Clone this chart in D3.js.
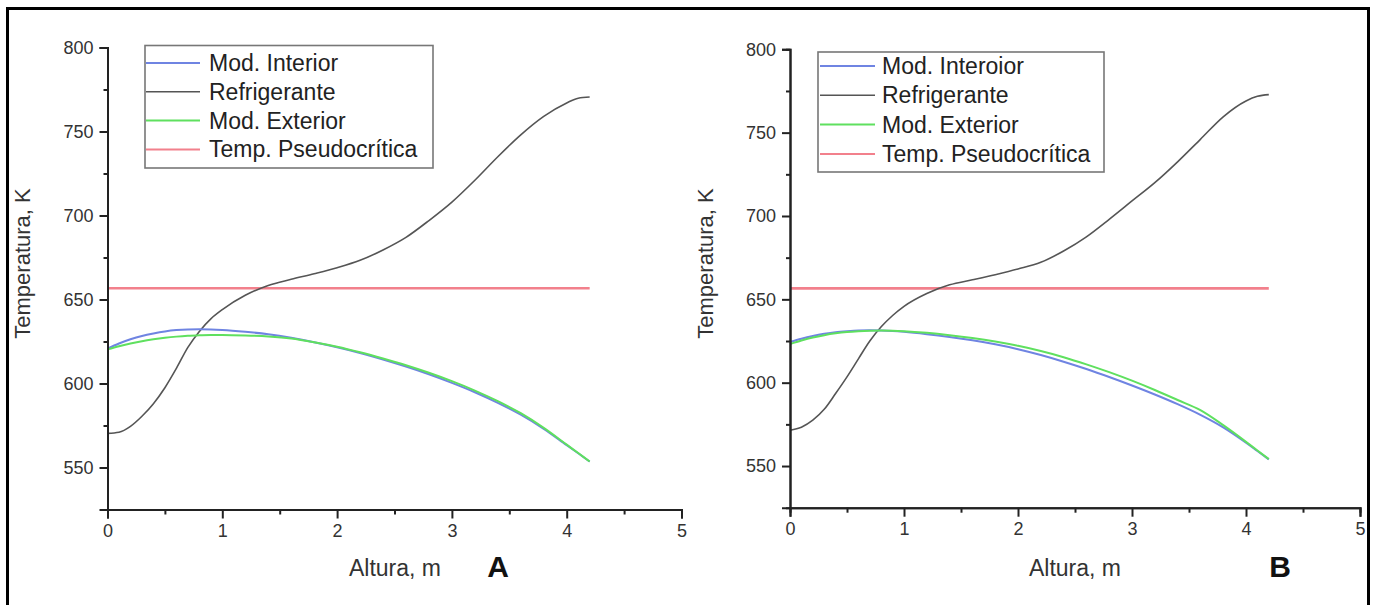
<!DOCTYPE html>
<html>
<head>
<meta charset="utf-8">
<script src="https://cdn.jsdelivr.net/npm/d3@7/dist/d3.min.js"></script>
<style>
  html, body { margin: 0; padding: 0; background: #fff; }
  svg { display: block; font-family: "Liberation Sans", Arial, sans-serif; }
</style>
</head>
<body>
<svg id="chart" width="1376" height="605"></svg>
<script>
// ---------------- data ----------------
const altura = [0, 0.1, 0.2, 0.3, 0.4, 0.5, 0.6, 0.7, 0.8, 0.9, 1.0, 1.2, 1.4, 1.6, 1.8, 2.0, 2.2, 2.4, 2.6, 2.8, 3.0, 3.2, 3.4, 3.6, 3.8, 4.0, 4.1, 4.2];

// Panel A
const refrigA  = [570.3, 571, 574.5, 580.5, 588, 597.5, 609, 621.5, 631, 638.5, 644, 652.5, 658.4, 662, 665.3, 668.9, 673.3, 679.5, 687, 697, 708, 721, 735, 748, 759, 767, 769.8, 770.5];
const interiorA = [620.8, 623.8, 626.3, 628.3, 629.8, 631, 631.8, 632.2, 632.3, 632.2, 631.9, 630.8, 629.3, 627.2, 624.6, 621.6, 618.2, 614.3, 610.1, 605.5, 600.4, 594.8, 588.5, 581.4, 573, 563.3, 558.5, 553.5];
const exteriorA = [620.3, 622.2, 623.8, 625.2, 626.3, 627.2, 627.9, 628.4, 628.7, 628.9, 628.9, 628.6, 628, 626.8, 624.6, 621.9, 618.6, 614.9, 610.9, 606.4, 601.4, 595.8, 589.5, 582.3, 573.6, 563.6, 558.6, 553.6];

// Panel B
const refrigB  = [571.5, 573.3, 577.5, 584, 593.5, 603.5, 614.3, 625, 633.5, 640.3, 645.8, 653.5, 658.7, 661.7, 664.8, 668.2, 672.2, 679, 687.5, 698, 709, 720, 732.5, 746, 759.5, 769, 771.8, 772.8];
const interiorB = [624.5, 626.4, 628, 629.3, 630.3, 630.9, 631.3, 631.4, 631.3, 631, 630.5, 629.1, 627.4, 625.4, 623, 620.1, 616.6, 612.6, 608.2, 603.4, 598.3, 592.9, 587.1, 580.7, 573.2, 564, 559, 554];
const exteriorB = [623.2, 625.3, 627.1, 628.5, 629.6, 630.4, 630.9, 631.2, 631.3, 631.2, 630.9, 629.9, 628.5, 626.8, 624.7, 622.1, 619, 615.3, 611, 606.3, 601.2, 595.6, 589.6, 583.5, 574.5, 564.5, 559.3, 554.2];

// Pseudocritical temperature (horizontal line)
const pseudoX = [0, 4.2];
const pseudoA = [656.7, 656.7];
const pseudoB = [656.6, 656.6];

const xTicks = [0, 1, 2, 3, 4, 5];
const yTicks = [550, 600, 650, 700, 750, 800];
const xDomain = [0, 5];
const yDomain = [525, 800];

const legendA = ["Mod. Interior", "Refrigerante", "Mod. Exterior", "Temp. Pseudocrítica"];
const legendB = ["Mod. Interoior", "Refrigerante", "Mod. Exterior", "Temp. Pseudocrítica"];
const seriesColors = ["#6f84e2", "#555555", "#5fe05f", "#f2808c"];
const xTitle = "Altura, m";
const yTitle = "Temperatura, K";

// ---------------- drawing ----------------
const svg = d3.select("#chart");
svg.append("rect").attr("width", 1376).attr("height", 605).attr("fill", "#fff");

// outer frame (left, top, right)
svg.append("path")
  .attr("d", "M7.5,605 L7.5,8.5 L1368.5,8.5 L1368.5,605")
  .attr("fill", "none").attr("stroke", "#000").attr("stroke-width", 3);

const panels = [
  { left: 107.5, right: 681.5, top: 47.5, bottom: 509.5,
    refrig: refrigA, interior: interiorA, exterior: exteriorA, pseudo: pseudoA,
    legend: legendA, box: [145, 45.5, 433, 168], rowY0: 63, rowStep: 28.8, lineX: [146, 200], textX: 209,
    ytitleX: 22.5, xtitleX: 395, tag: "A", tagX: 498 },
  { left: 790, right: 1360, top: 49.3, bottom: 507.7,
    refrig: refrigB, interior: interiorB, exterior: exteriorB, pseudo: pseudoB,
    legend: legendB, box: [818, 52, 1104, 172], rowY0: 66, rowStep: 29.3, lineX: [820, 875], textX: 882,
    ytitleX: 705, xtitleX: 1075, tag: "B", tagX: 1280 }
];

panels.forEach(p => {
  const x = d3.scaleLinear().domain(xDomain).range([p.left, p.right]);
  const y = d3.scaleLinear().domain(yDomain).range([p.bottom, p.top]);
  const g = svg.append("g");

  const line = d3.line()
    .x(d => x(d[0])).y(d => y(d[1]))
    .curve(d3.curveMonotoneX);

  // pseudocritical line
  g.append("path")
    .datum(pseudoX.map((v, i) => [v, p.pseudo[i]]))
    .attr("d", line).attr("fill", "none")
    .attr("stroke", seriesColors[3]).attr("stroke-width", 2.6);

  // refrigerant
  g.append("path")
    .datum(altura.map((v, i) => [v, p.refrig[i]]))
    .attr("d", line).attr("fill", "none")
    .attr("stroke", seriesColors[1]).attr("stroke-width", 1.6);

  // interior
  g.append("path")
    .datum(altura.map((v, i) => [v, p.interior[i]]))
    .attr("d", line).attr("fill", "none")
    .attr("stroke", seriesColors[0]).attr("stroke-width", 2);

  // exterior
  g.append("path")
    .datum(altura.map((v, i) => [v, p.exterior[i]]))
    .attr("d", line).attr("fill", "none")
    .attr("stroke", seriesColors[2]).attr("stroke-width", 2);

  // axes
  const xAxis = d3.axisBottom(x).tickValues(xTicks).tickSize(9).tickPadding(6).tickFormat(d3.format("d"));
  const yAxis = d3.axisLeft(y).tickValues(yTicks).tickSize(8).tickPadding(6).tickFormat(d3.format("d"));
  const xMinor = d3.axisBottom(x).tickValues(d3.range(0.5, 5, 1)).tickSize(5).tickFormat("");
  const yMinor = d3.axisLeft(y).tickValues(d3.range(575, 800, 50)).tickSize(4).tickFormat("");

  const styleAxis = sel => {
    sel.select(".domain").attr("stroke", "#222").attr("stroke-width", 2);
    sel.selectAll(".tick line").attr("stroke", "#222").attr("stroke-width", 2);
    sel.selectAll(".tick text").attr("fill", "#333").style("font-size", "18px")
      .style("font-family", "'Liberation Sans', Arial, sans-serif");
  };

  g.append("g").attr("transform", `translate(0,${p.bottom})`).call(xMinor).call(styleAxis);
  g.append("g").attr("transform", `translate(${p.left},0)`).call(yMinor).call(styleAxis);
  g.append("g").attr("transform", `translate(0,${p.bottom})`).call(xAxis).call(styleAxis);
  g.append("g").attr("transform", `translate(${p.left},0)`).call(yAxis).call(styleAxis);

  // titles
  g.append("text")
    .attr("transform", `translate(${p.ytitleX},${(p.top + p.bottom) / 2 - 15}) rotate(-90)`)
    .attr("text-anchor", "middle").attr("dy", "0.35em")
    .attr("fill", "#333").style("font-size", "22px").text(yTitle);
  g.append("text")
    .attr("x", p.xtitleX).attr("y", 576)
    .attr("text-anchor", "middle").attr("fill", "#333")
    .style("font-size", "23px").text(xTitle);
  g.append("text")
    .attr("x", p.tagX).attr("y", 577)
    .attr("text-anchor", "middle").attr("fill", "#111")
    .style("font-size", "30px").style("font-weight", "bold").text(p.tag);

  // legend
  const b = p.box;
  g.append("rect")
    .attr("x", b[0]).attr("y", b[1]).attr("width", b[2] - b[0]).attr("height", b[3] - b[1])
    .attr("fill", "none").attr("stroke", "#777").attr("stroke-width", 1.6);
  p.legend.forEach((label, i) => {
    const cy = p.rowY0 + i * p.rowStep;
    g.append("line")
      .attr("x1", p.lineX[0]).attr("x2", p.lineX[1]).attr("y1", cy).attr("y2", cy)
      .attr("stroke", seriesColors[i]).attr("stroke-width", i === 1 ? 1.6 : 2);
    g.append("text")
      .attr("x", p.textX).attr("y", cy).attr("dy", "0.35em")
      .attr("fill", "#222").style("font-size", "23px").text(label);
  });
});
</script>
</body>
</html>
